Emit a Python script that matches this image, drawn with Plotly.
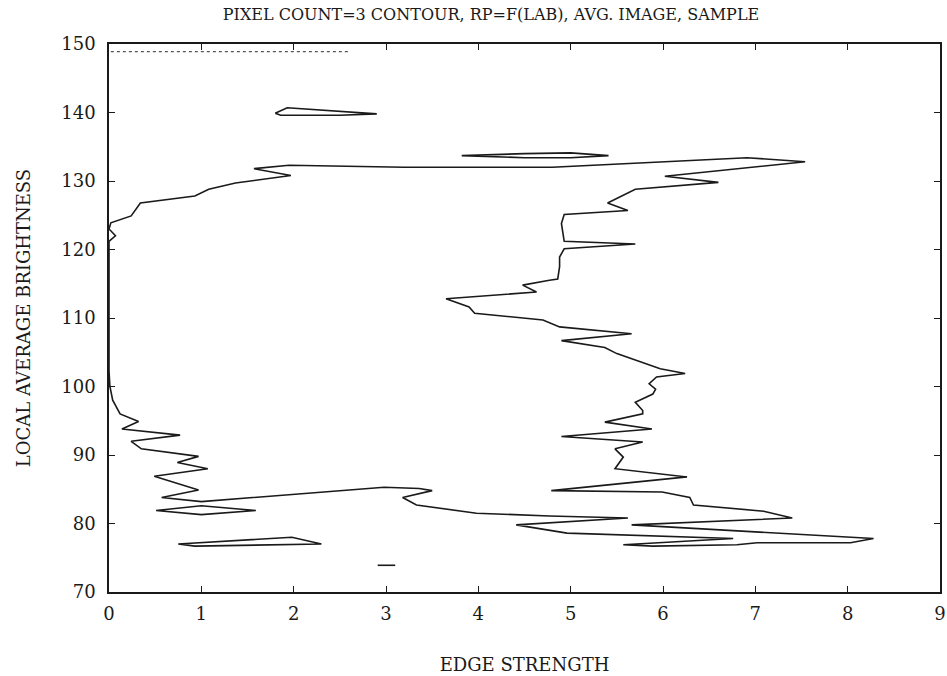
import plotly.graph_objects as go

# Main contour (closed path), edge strength vs local average brightness
main_x = [7.54, 6.02, 6.60, 5.70, 5.40, 5.62, 4.93, 4.90, 4.93, 5.50, 5.70, 4.93, 4.88, 4.88, 4.86,
          4.77, 4.48, 4.63, 3.65, 3.90, 3.96, 4.70, 4.88, 5.66, 4.90, 5.37, 5.50, 5.97, 6.24, 5.93,
          5.85, 5.92, 5.89, 5.70, 5.78, 5.78, 5.37, 5.88, 4.90, 5.78, 5.48, 5.57, 5.48, 6.26, 4.79,
          5.99, 6.29, 6.33, 7.09, 7.40, 5.66, 8.28, 8.03, 7.02, 6.80, 5.89, 5.57, 6.76, 4.96, 4.41,
          5.62, 4.77, 3.98, 3.33, 3.18, 3.50, 3.36, 2.98, 1.00, 0.57, 0.97, 0.49, 1.07, 0.74, 0.97,
          0.35, 0.24, 0.77, 0.14, 0.32, 0.12, 0.04, 0.01, 0.00, 0.00, 0.00, 0.07, 0.00, 0.02, 0.24,
          0.34, 0.93, 1.08, 1.37, 1.97, 1.57, 1.95, 3.20, 4.80, 6.91, 7.54]
main_y = [132.8, 130.7, 129.8, 128.8, 126.8, 125.7, 125.1, 123.8, 121.2, 120.9, 120.8, 120.1, 118.9, 117.5, 115.7,
          115.5, 114.8, 113.8, 112.8, 111.6, 110.7, 109.7, 108.7, 107.7, 106.7, 105.7, 104.8, 102.6, 101.9, 101.4,
          100.4, 99.6, 98.9, 97.7, 96.5, 96.0, 94.8, 93.8, 92.7, 91.9, 90.9, 89.7, 88.0, 86.8, 84.8,
          84.6, 83.8, 82.7, 81.8, 80.8, 79.8, 77.8, 77.2, 77.2, 76.9, 76.7, 76.9, 77.8, 78.6, 79.8,
          80.8, 81.1, 81.5, 82.7, 83.8, 84.8, 85.1, 85.3, 83.2, 83.8, 84.9, 86.9, 88.0, 88.9, 89.8,
          90.9, 92.0, 92.9, 93.8, 94.9, 96.0, 98.0, 100.0, 102.3, 110.0, 121.2, 122.0, 123.0, 123.9, 124.9,
          126.8, 127.8, 128.8, 129.7, 130.8, 131.8, 132.3, 132.0, 132.0, 133.4, 132.8]

# Small closed contours
loop140_x = [1.80, 1.93, 2.90, 2.50, 1.86, 1.80]
loop140_y = [139.9, 140.7, 139.8, 139.6, 139.6, 139.9]

loop134_x = [3.82, 4.50, 5.00, 5.41, 5.00, 4.50, 3.82]
loop134_y = [133.7, 134.0, 134.1, 133.7, 133.4, 133.4, 133.7]

loop82_x = [0.51, 1.00, 1.59, 1.00, 0.51]
loop82_y = [81.9, 82.6, 81.9, 81.3, 81.9]

loop77_x = [0.75, 1.98, 2.30, 0.93, 0.75]
loop77_y = [77.0, 78.0, 77.0, 76.7, 77.0]

seg74_x = [2.91, 3.10]
seg74_y = [73.9, 73.9]

# Faint dotted fragment along the top edge
top_x = [0.02, 2.62]
top_y = [148.9, 148.9]

x_ticks = [0, 1, 2, 3, 4, 5, 6, 7, 8, 9]
y_ticks = [70, 80, 90, 100, 110, 120, 130, 140, 150]

FONT = "DejaVu Serif"
INK = "#1a1a1a"
fig = go.Figure()
pieces = [(main_x, main_y), (loop140_x, loop140_y), (loop134_x, loop134_y),
          (loop82_x, loop82_y), (loop77_x, loop77_y), (seg74_x, seg74_y)]
for px, py in pieces:
    fig.add_trace(go.Scatter(x=px, y=py, mode="lines",
                             line=dict(color=INK, width=1.6),
                             hoverinfo="skip", showlegend=False))
fig.add_trace(go.Scatter(x=top_x, y=top_y, mode="lines",
                         line=dict(color="#555555", width=1.3, dash="dot"),
                         hoverinfo="skip", showlegend=False))

axis_common = dict(showline=True, linecolor=INK, linewidth=1.5, mirror="ticks",
                   ticks="inside", ticklen=6, tickwidth=1.3, tickcolor=INK,
                   showgrid=False, zeroline=False, automargin=False,
                   tickfont=dict(family=FONT, size=18, color=INK))

fig.update_layout(
    width=947, height=676,
    margin=dict(l=109, r=7, t=44, b=84),
    paper_bgcolor="white", plot_bgcolor="white",
    title=dict(text="PIXEL COUNT=3 CONTOUR, RP=F(LAB), AVG. IMAGE, SAMPLE",
               x=491 / 947, xanchor="center", y=1 - 14 / 676, yanchor="middle",
               font=dict(family=FONT, size=16, color=INK)),
    xaxis=dict(range=[0, 9], tickvals=x_ticks, ticktext=[str(v) for v in x_ticks],
               ticklabelstandoff=5,
               title=dict(text="EDGE STRENGTH", standoff=35,
                          font=dict(family=FONT, size=18, color=INK)),
               **axis_common),
    yaxis=dict(range=[70, 150], tickvals=y_ticks, ticktext=[str(v) for v in y_ticks],
               ticklabelstandoff=8,
               title=dict(text="LOCAL AVERAGE BRIGHTNESS", standoff=26,
                          font=dict(family=FONT, size=18, color=INK)),
               **axis_common),
)

fig.write_html("out.html")
